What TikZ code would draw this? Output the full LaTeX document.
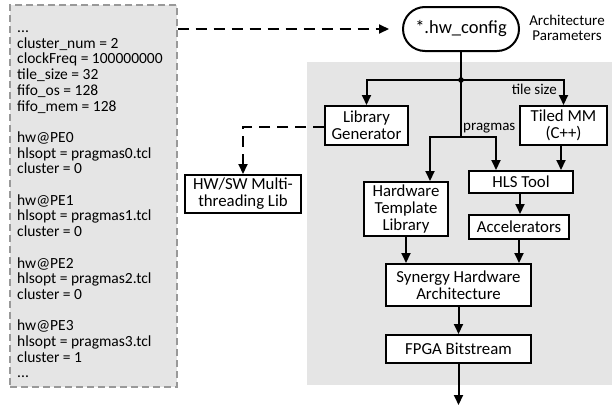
\documentclass[tikz,border=0pt]{standalone}
\usepackage{fontspec}
\setmainfont{Carlito}
\usetikzlibrary{arrows.meta}
\begin{document}
\begin{tikzpicture}[x=1pt,y=-1pt,
  box/.style={draw, line width=2pt, fill=white, inner sep=0pt, align=center,
    font=\fontsize{16.8}{16.8}\selectfont},
  flow/.style={line width=2pt, -{Triangle[length=10pt,width=9pt]}},
  plain/.style={line width=2pt},
  dflow/.style={flow, dash pattern=on 11pt off 7pt},
  cfgline/.style={anchor=base west, inner sep=0pt, font=\fontsize{15.5}{15.5}\selectfont},
  lbl/.style={inner sep=0pt, align=center, font=\fontsize{15}{15}\selectfont}]
\useasboundingbox (0,0) rectangle (612,407);
% grey region
\fill[gray!20] (307,62) rectangle (612,385);
% parameter file box
\node (params) [draw=gray!80, fill=gray!20, line width=1.3pt, dash pattern=on 7pt off 4pt,
  minimum width=167pt, minimum height=382pt, inner sep=0pt] at (93.5,196) {};
\foreach \i/\t in {0/{...}, 1/{cluster\_num = 2}, 2/{clockFreq = 100000000}, 3/{tile\_size = 32},
  4/{fifo\_os = 128}, 5/{fifo\_mem = 128}, 7/{hw@PE0}, 8/{hlsopt = pragmas0.tcl}, 9/{cluster = 0},
  11/{hw@PE1}, 12/{hlsopt = pragmas1.tcl}, 13/{cluster = 0},
  15/{hw@PE2}, 16/{hlsopt = pragmas2.tcl}, 17/{cluster = 0},
  19/{hw@PE3}, 20/{hlsopt = pragmas3.tcl}, 21/{cluster = 1}, 22/{...}}
  \node (line\i) [cfgline] at (17, 32.5+15.7*\i) {\t};
% config node
\node (config) [draw, line width=2pt, fill=white, rounded corners=22pt,
  minimum width=116pt, minimum height=44pt, inner sep=0pt,
  font=\fontsize{18.5}{18.5}\selectfont] at (461,29) {*.hw\_config};
\node (archlbl) [lbl] at (567,28) {Architecture\\Parameters};
% boxes
\node (libgen) [box, minimum width=83pt, minimum height=39pt] at (366.5,125.5) {Library\\Generator};
\node (tiled)  [box, minimum width=87pt, minimum height=39pt] at (563.5,125.5) {Tiled MM\\(C++)};
\node (hls)    [box, minimum width=104pt, minimum height=22pt] at (521,182) {HLS Tool};
\node (htl)    [box, minimum width=84pt, minimum height=54pt] at (406,209) {Hardware\\Template\\Library};
\node (acc)    [box, minimum width=100pt, minimum height=24pt] at (519,227) {Accelerators};
\node (syn)    [box, minimum width=145pt, minimum height=42pt] at (458.5,285) {Synergy Hardware\\Architecture};
\node (fpga)   [box, minimum width=145pt, minimum height=28pt] at (458.5,349) {FPGA Bitstream};
\node (hwsw)   [box, minimum width=116pt, minimum height=38pt] at (243,194) {HW/SW Multi-\\threading Lib};
% connectors
\draw[dflow, shorten >=13pt] (params.east |- config.west) -- (config.west);
\coordinate (j) at (461,80);
\coordinate (p) at (461,137);
\coordinate (out) at (458.5,405);
\draw[plain] (config.south) -- (j);
\draw[flow] (j) -| (libgen.north);
\draw[flow] (j) -| (tiled.north);
\fill (j) circle (2.8pt);
\draw[plain] (j) -- (p);
\draw[flow] (p) -| ([xshift=24pt]htl.north);
\draw[flow] (p) -| ([xshift=-25pt]hls.north);
\draw[flow] ([xshift=-2.5pt]tiled.south) -- ([xshift=-2.5pt]tiled.south |- hls.north);
\draw[flow] ([xshift=-1pt]hls.south) -- ([xshift=-1pt]hls.south |- acc.north);
\draw[flow] (htl.south) -- (htl.south |- syn.north);
\draw[flow] (acc.south) -- (acc.south |- syn.north);
\draw[flow] (syn.south) -- (fpga.north);
\draw[flow] (fpga.south) -- (out);
\draw[dflow] ([yshift=-1.5pt]libgen.west) -| (hwsw.north);
% labels
\node (tilelbl) [lbl, anchor=east] at (557,89) {tile size};
\node (praglbl) [lbl, anchor=west] at (463,128) {pragmas};
\end{tikzpicture}
\end{document}
